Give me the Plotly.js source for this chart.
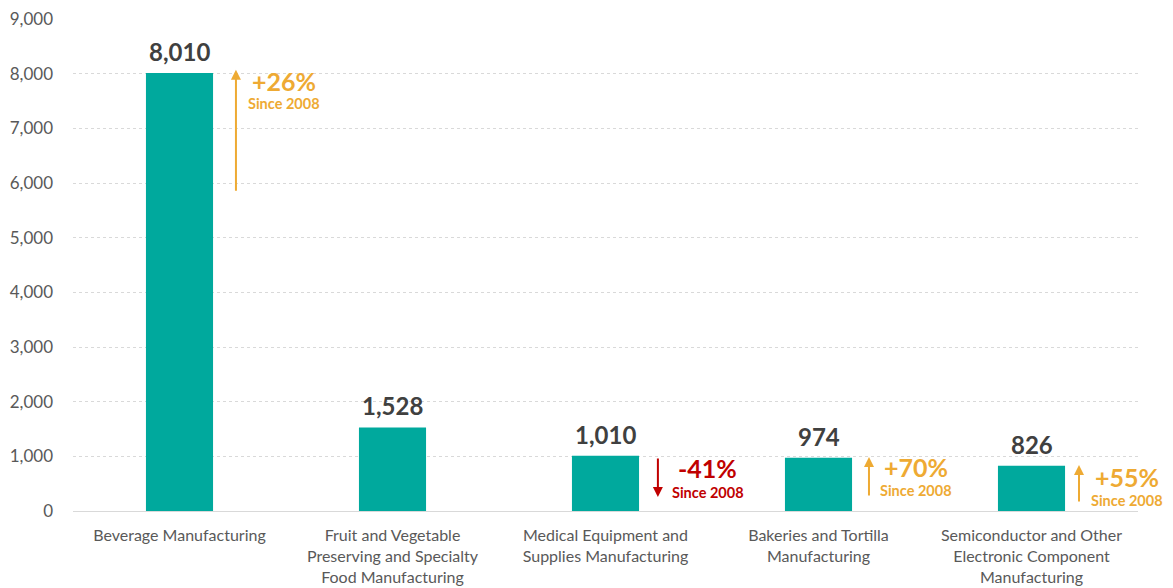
<!DOCTYPE html>
<html><head><meta charset="utf-8">
<script src="https://cdn.plot.ly/plotly-3.0.1.min.js"></script>
<style>body{margin:0;background:#fff}#chart{width:1173px;height:588px}</style>
</head><body><div id="chart"></div>
<script>
var categories = ["Beverage Manufacturing", "Fruit and Vegetable<br>Preserving and Specialty<br>Food Manufacturing", "Medical Equipment and<br>Supplies Manufacturing", "Bakeries and Tortilla<br>Manufacturing", "Semiconductor and Other<br>Electronic Component<br>Manufacturing"];
var employment = [8010, 1528, 1010, 974, 826];
var changeLabels = ["+26%", null, "-41%", "+70%", "+55%"];
var changeDirection = [1, 0, -1, 1, 1];

var orange = "#EEAA33", red = "#C00000";
var annotations = [];
// layout helpers (positions in data units)
var arrowX = {0: 0.265, 2: 0.246, 3: 0.237, 4: 0.223};
var textX = {0: 0.49, 2: 0.48, 3: 0.46, 4: 0.45};
var arrowSpans = {0: [5830, 8070], 2: [990, 255], 3: [255, 990], 4: [145, 840]};
var textY = {0: [7870, 7450], 2: [780, 340], 3: [800, 380], 4: [620, 200]};
for (var i = 0; i < categories.length; i++) {
  annotations.push({x: i, y: employment[i], xref: 'x', yref: 'y', yanchor: 'bottom', yshift: 5,
    text: employment[i].toLocaleString('en-US'), showarrow: false,
    font: {family: 'Lato', size: 24, color: '#404040', weight: 'bold'}});
  if (!changeLabels[i]) continue;
  var col = changeDirection[i] > 0 ? orange : red;
  var xa = i + arrowX[i];
  var sp = arrowSpans[i];
  annotations.push({x: xa, y: sp[1], ax: xa, ay: sp[0], xref: 'x', yref: 'y', axref: 'x', ayref: 'y',
    text: '', showarrow: true, arrowhead: 2, arrowsize: 1, arrowwidth: 2, arrowcolor: col});
  var xt = i + textX[i];
  annotations.push({x: xt, y: textY[i][0], xref: 'x', yref: 'y', text: '<b>' + changeLabels[i] + '</b>',
    showarrow: false, font: {family: 'Lato', size: 25, color: col}});
  annotations.push({x: xt, y: textY[i][1], xref: 'x', yref: 'y', text: '<b>Since 2008</b>',
    showarrow: false, font: {family: 'Lato', size: 14.5, color: col}});
}

var trace = {
  type: 'bar', x: [0,1,2,3,4], y: employment,
  marker: {color: '#00A99D'},
  hoverinfo: 'none'
};

var layout = {
  width: 1173, height: 588,
  margin: {l: 73, r: 35, t: 19, b: 77},
  paper_bgcolor: '#fff', plot_bgcolor: '#fff',
  showlegend: false, bargap: 0.685,
  font: {family: 'Lato', color: '#595959'},
  xaxis: {tickmode: 'array', tickvals: [0,1,2,3,4], ticktext: categories, range: [-0.5, 4.5],
    showgrid: false, zeroline: false, showline: true, linecolor: '#D9D9D9', linewidth: 1,
    tickfont: {family: 'Lato', size: 16, color: '#595959'}, ticks: '', ticklabelstandoff: 10},
  yaxis: {range: [0, 9000], dtick: 1000, tickformat: ',d', showgrid: true, gridcolor: '#D9D9D9', griddash: 'dot',
    zeroline: false, showline: false, ticks: '', ticklabelstandoff: 19,
    tickfont: {family: 'Lato', size: 17, color: '#595959'}},
  annotations: annotations
};
Plotly.newPlot('chart', [trace], layout, {displayModeBar: false, staticPlot: true});
</script></body></html>
